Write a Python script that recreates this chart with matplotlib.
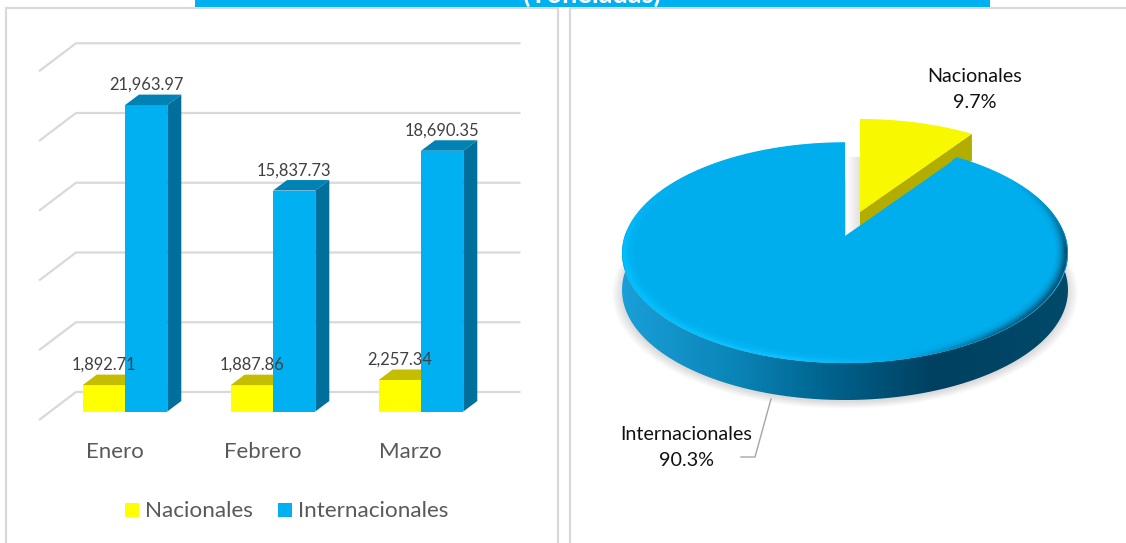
import numpy as np
import matplotlib
matplotlib.use('Agg')
import matplotlib.pyplot as plt
from matplotlib.patches import Polygon, Rectangle
from matplotlib.collections import LineCollection
from matplotlib.colors import LinearSegmentedColormap, to_rgb

meses = ['Enero', 'Febrero', 'Marzo']
nacionales = [1892.71, 1887.86, 2257.34]
internacionales = [21963.97, 15837.73, 18690.35]
grid_vals = [0, 5000, 10000, 15000, 20000, 25000]
pie_labels = ['Nacionales', 'Internacionales']
pie_vals = [9.7, 90.3]

AMARILLO = '#ffff00'
AZUL = '#00b0f0'
W, H = 1126, 543

plt.rcParams['font.family'] = ['Lato', 'DejaVu Sans']
fig = plt.figure(figsize=(W / 100, H / 100), dpi=100)

# fondo en pixeles: paneles, banner y pastel
bg = fig.add_axes([0, 0, 1, 1])
bg.axis('off')
bg.add_patch(Rectangle((5.5, 8), 552, 545, fc='white', ec='#d9d9d9', lw=1.6))
bg.add_patch(Rectangle((570, 8), 570, 545, fc='white', ec='#d9d9d9', lw=1.6))
bg.add_patch(Rectangle((195, -2), 795, 9, fc=AZUL, ec='none'))
bg.text(592, 3, '(Toneladas)', color='white', fontsize=19.5, fontweight='bold',
        ha='center', va='baseline', clip_on=True,
        clip_path=Rectangle((195, 0), 795, 7, transform=bg.transData))

# barras: valores reales, la profundidad se anade en pixeles
px_x = 148.0
px_y = 0.01395
ax = fig.add_axes([0, 0, 1, 1], facecolor='none')
ax.set_xlim(-125 / px_x, (W - 125) / px_x)
ax.set_ylim(-(H - 411.5) / px_y, 411.5 / px_y)
ax.axis('off')
ancho = 42.3 / px_x
dx = 14 / px_x
dy = 10.5 / px_y

# rejilla con profundidad
g_dx0, g_dx1 = -86 / px_x, -49 / px_x
g_right = (520.5 - 125) / px_x
g_front, g_back = -8.5 / px_y, 19.5 / px_y
for v in grid_vals:
    ax.plot([g_dx0, g_dx1, g_right], [v + g_front, v + g_back, v + g_back],
            color='#d9d9d9', lw=1.6, solid_joinstyle='miter', solid_capstyle='butt')

def barra(x, val, cara, tapa, lado):
    ax.bar(x, val, ancho, align='edge', color=cara, zorder=3)
    ax.add_patch(Polygon([(x, val), (x + dx, val + dy), (x + ancho + dx, val + dy), (x + ancho, val)],
                         fc=tapa, ec='none', zorder=3))
    if lado:
        ax.add_patch(Polygon([(x + ancho, 0), (x + ancho + dx, dy), (x + ancho + dx, val + dy), (x + ancho, val)],
                             fc=lado, ec='none', zorder=3))

pos = np.arange(len(meses))
for i in pos:
    barra(i - ancho, nacionales[i], AMARILLO, '#c4bd00', None)
    barra(i, internacionales[i], AZUL, '#0083b4', '#006f9b')
    ax.text(i - ancho + 21.5 / px_x, nacionales[i] + 20.5 / px_y, f'{nacionales[i]:,.2f}',
            color='#404040', fontsize=11.9, ha='center', va='center', zorder=5)
    ax.text(i + 21 / px_x, internacionales[i] + 20 / px_y, f'{internacionales[i]:,.2f}',
            color='#404040', fontsize=11.9, ha='center', va='center', zorder=5)
    ax.text(i - 10.5 / px_x, -40 / px_y, meses[i], color='#595959', fontsize=16,
            ha='center', va='center')

# leyenda
for lab, col, x0 in [('Nacionales', AMARILLO, 125), ('Internacionales', AZUL, 278)]:
    bg.add_patch(Rectangle((x0, 503), 14, 14, fc=col, ec='none'))
    bg.text(x0 + 20, 511, lab, color='#595959', fontsize=16.2, ha='left', va='center')

# pastel en perspectiva
cx, cy = 845.0, 236.0
A, B, k = 220.3, 107.4, 0.1545
grosor = 37

def proy(t, r=1.0, ox=0.0, oy=0.0):
    # t en radianes desde arriba en sentido horario
    u, v = r * np.sin(t), -r * np.cos(t)
    d = 1 - k * v
    return cx + ox + A * u / d, cy + oy + B * v / d

corte = 2 * np.pi * pie_vals[0] / sum(pie_vals)
t_azul = np.linspace(corte, 2 * np.pi, 300)
xa, ya = proy(t_azul)

# sombra
t_all = np.linspace(0, 2 * np.pi, 300)
for i in range(12):
    sx, sy = proy(t_all, 1.0 + 0.004 * i, oy=grosor + 2)
    bg.add_patch(Polygon(np.c_[sx, sy], fc='#000000', alpha=0.012, ec='none', zorder=2))

# lateral con degradado
cm_lado = LinearSegmentedColormap.from_list('lado', [(0, '#1a9fd8'), (0.25, '#0a85b8'), (0.47, '#00628c'),
                                                     (0.70, '#004060'), (1, '#004a6a')])
t_f = np.linspace(np.pi / 2 - 0.05, 3 * np.pi / 2 + 0.05, 200)
fx, fy = proy(t_f)
lado = Polygon(np.r_[np.c_[fx, fy], np.c_[fx[::-1], fy[::-1] + grosor]], transform=bg.transData, fc='none', ec='none')
bg.add_patch(lado)
grad = np.linspace(0, 1, 256).reshape(1, -1)
im = bg.imshow(grad, cmap=cm_lado, extent=(fx.min(), fx.max(), fy.max() + grosor, fy.min()), aspect='auto', zorder=3)
im.set_clip_path(lado)
bg.set_xlim(0, W)
bg.set_ylim(H, 0)

# sombra en el hueco
cm_hueco = LinearSegmentedColormap.from_list('hueco', ['#ffffff', '#e2e2e2'])
bg.imshow(np.linspace(0, 1, 32).reshape(1, -1), cmap=cm_hueco, extent=(846, 860, 237, 157), aspect='auto', zorder=2)
bg.set_xlim(0, W)
bg.set_ylim(H, 0)

# porcion nacional separada
ox, oy = 15, -24
t_nac = np.linspace(0, corte, 60)
nx, ny = proy(t_nac, ox=ox, oy=oy)
ap = (cx + ox, cy + oy)
bg.add_patch(Polygon([(ap[0], ap[1]), (ap[0], ap[1] + 14), (nx[-1], ny[-1] + 27), (nx[-1], ny[-1])],
                     fc='#b3ad00', ec='none', zorder=4))
bg.add_patch(Polygon(np.r_[[ap], np.c_[nx, ny]], fc='#f8f800', ec='none', zorder=5))

# cara azul
bg.add_patch(Polygon(np.r_[[(cx, cy)], np.c_[xa, ya]], fc='#00aeee', ec='none', zorder=6))

# bisel del borde: claro a la izquierda, oscuro a la derecha
base = np.array(to_rgb('#00aeee'))
stops_x = [620, 790, 900, 1000, 1066]
stops_c = np.array([to_rgb(c) for c in ['#00c2ff', '#12c4ff', '#00aeee', '#00628c', '#004a6b']])
for r, mezcla in [(0.990, 0.95), (0.983, 0.8), (0.976, 0.6), (0.969, 0.42), (0.962, 0.26), (0.955, 0.12)]:
    bx, by = proy(t_azul, r)
    pts = np.c_[bx, by]
    segs = np.stack([pts[:-1], pts[1:]], axis=1)
    mx = (bx[:-1] + bx[1:]) / 2
    my = (by[:-1] + by[1:]) / 2
    cols = np.c_[[np.interp(mx, stops_x, stops_c[:, j]) for j in range(3)]].T
    vis = np.clip((my - 180) / 70, 0, 1) * mezcla
    cols = cols * vis[:, None] + base * (1 - vis)[:, None]
    bg.add_collection(LineCollection(segs, colors=cols, lw=2.2, zorder=7, capstyle='butt'))

# etiquetas del pastel
bg.text(975, 77, pie_labels[0], color='#111111', fontsize=14.2, ha='center', va='center', zorder=9)
bg.text(975, 103, f'{pie_vals[0]}%', color='#111111', fontsize=14.2, ha='center', va='center', zorder=9)
bg.text(686, 434, pie_labels[1], color='#111111', fontsize=14.2, ha='center', va='center', zorder=9)
bg.text(686, 460, f'{pie_vals[1]}%', color='#111111', fontsize=14.2, ha='center', va='center', zorder=9)
bg.plot([771, 755, 741], [399, 457, 457], color='#a6a6a6', lw=1, zorder=8)

fig.savefig('out.png', dpi=100)
